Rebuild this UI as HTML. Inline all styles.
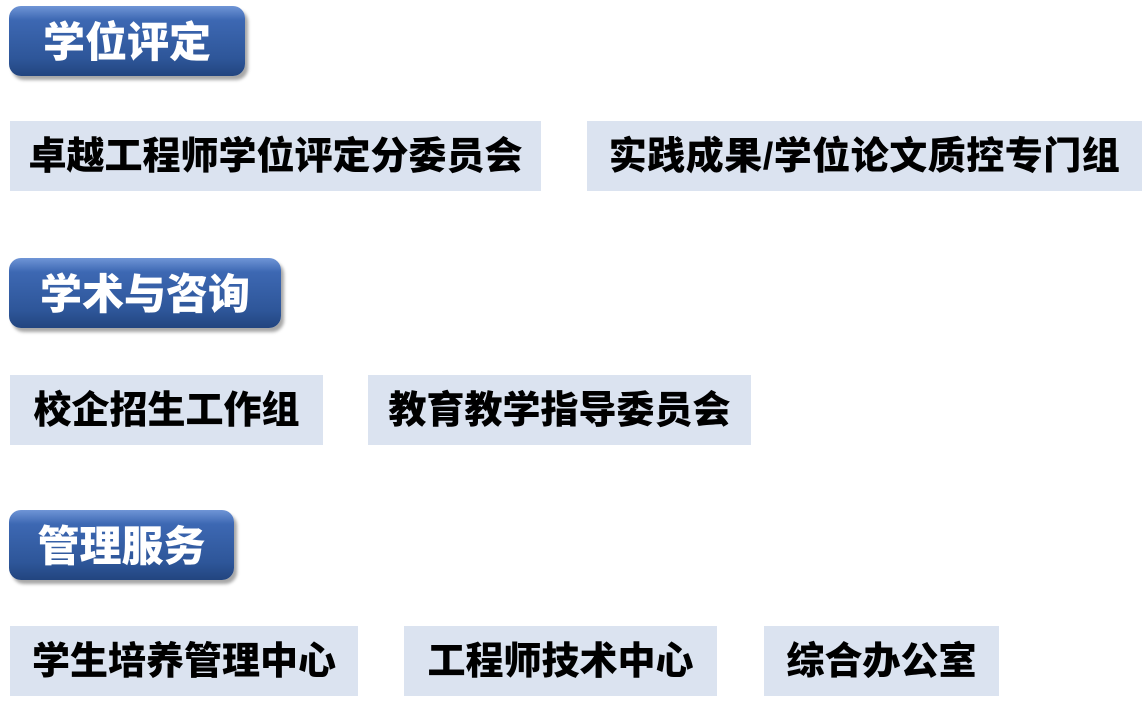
<!DOCTYPE html>
<html><head><meta charset="utf-8"><style>
body{margin:0;width:1142px;height:707px;background:#fff;position:relative;overflow:hidden;font-family:"Liberation Sans","Noto Sans CJK SC",sans-serif;font-weight:bold}
.h{position:absolute;height:70px;border-radius:12px;background:linear-gradient(#6f95d6 0%,#3d68b3 20%,#2e5699 75%,#22457f 100%);box-shadow:3px 4px 3px rgba(0,0,0,.35);color:#fff;font-size:42px;line-height:74px;text-align:center;font-weight:900}
.b{position:absolute;height:70px;background:#dbe3f0;color:#000;font-size:38px;line-height:72px;text-align:center;font-weight:900;white-space:nowrap}
</style></head><body>
<div class="h" style="left:9px;top:6px;width:236px">学位评定</div>
<div class="b" style="left:10px;top:121px;width:531px">卓越工程师学位评定分委员会</div>
<div class="b" style="left:587px;top:121px;width:555px;letter-spacing:0.5px">实践成果/学位论文质控专门组</div>
<div class="h" style="left:9px;top:258px;width:272px">学术与咨询</div>
<div class="b" style="left:10px;top:375px;width:313px">校企招生工作组</div>
<div class="b" style="left:368px;top:375px;width:383px">教育教学指导委员会</div>
<div class="h" style="left:9px;top:510px;width:225px">管理服务</div>
<div class="b" style="left:10px;top:626px;width:348px">学生培养管理中心</div>
<div class="b" style="left:404px;top:626px;width:313px">工程师技术中心</div>
<div class="b" style="left:764px;top:626px;width:235px">综合办公室</div>
</body></html>
